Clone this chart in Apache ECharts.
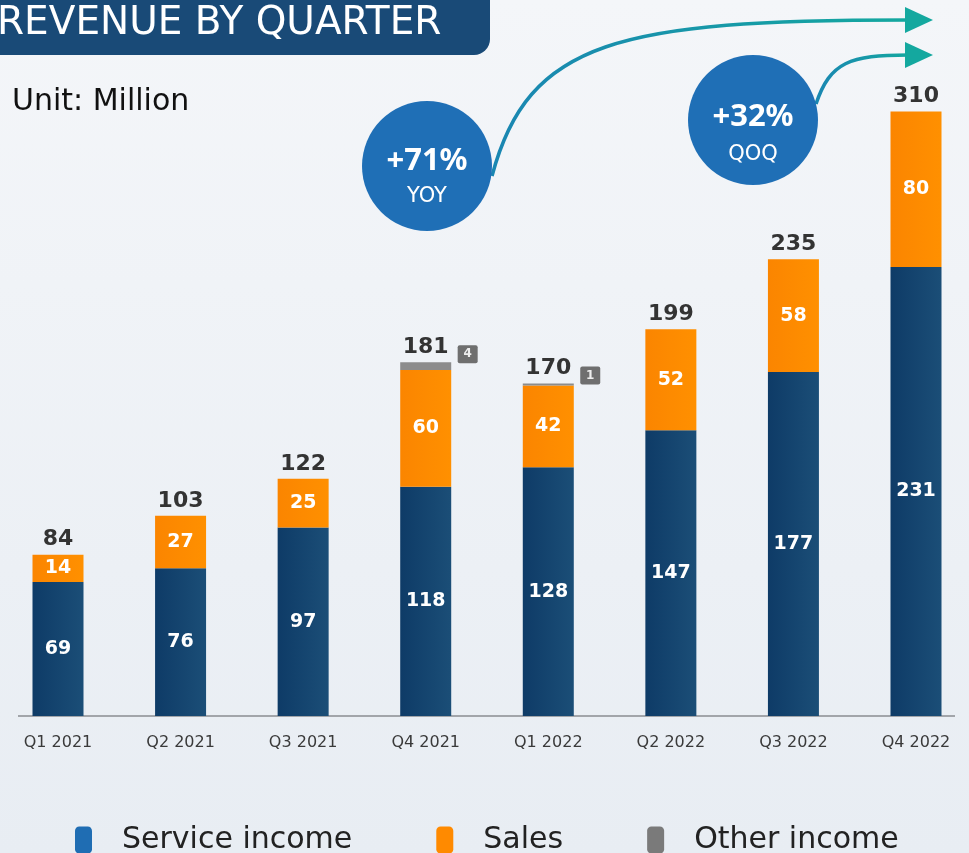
<!DOCTYPE html>
<html>
<head>
<meta charset="utf-8">
<script src="https://cdn.jsdelivr.net/npm/echarts@6/dist/echarts.min.js"></script>
<style>
  html, body { margin: 0; padding: 0; }
  #chart { width: 969px; height: 853px; }
</style>
</head>
<body>
<div id="chart"></div>
<script>
const quarters = ['Q1 2021', 'Q2 2021', 'Q3 2021', 'Q4 2021', 'Q1 2022', 'Q2 2022', 'Q3 2022', 'Q4 2022'];
const service = [69, 76, 97, 118, 128, 147, 177, 231];
const sales = [14, 27, 25, 60, 42, 52, 58, 80];
const other = [0, 0, 0, 4, 1, 0, 0, 0];
const totals = [84, 103, 122, 181, 170, 199, 235, 310];

const FONT = 'DejaVu Sans';
const chart = echarts.init(document.getElementById('chart'));

const inLabel = {
  show: true,
  position: 'inside',
  color: '#fff',
  fontFamily: FONT,
  fontWeight: 'bold',
  fontSize: 19
};

const arrowGrad = () => new echarts.graphic.LinearGradient(0, 0, 1, 0, [
  { offset: 0, color: '#1a86b2' }, { offset: 1, color: '#14a89f' }]);

// bars that carry the small "other" box get a taller label block, so pull it down a bit
const otherData = other.map(v => v > 0 ? { value: v, label: { distance: -1 } } : v);

const option = {
  backgroundColor: new echarts.graphic.LinearGradient(0, 0, 0, 1, [
    { offset: 0, color: '#f4f6f9' },
    { offset: 1, color: '#e8edf3' }
  ]),
  animation: false,
  grid: { left: 58, right: 53, top: 94, bottom: 137 },
  xAxis: {
    type: 'category',
    data: quarters,
    boundaryGap: false,
    axisLine: { show: false },
    axisTick: { show: false },
    axisLabel: { color: '#3a3a3a', fontFamily: FONT, fontSize: 16, margin: 19 }
  },
  yAxis: { type: 'value', min: 0, max: 320, show: false },
  legend: {
    bottom: -7,
    left: 70,
    itemWidth: 17,
    itemHeight: 27,
    itemGap: 84,
    icon: 'roundRect',
    textStyle: { fontFamily: FONT, fontSize: 30, color: '#222', padding: [0, 0, 0, 25] },
    data: [
      { name: 'Service income', itemStyle: { color: '#1f6db3' } },
      { name: 'Sales', itemStyle: { color: '#ff8a00' } },
      { name: 'Other income', itemStyle: { color: '#7a7a7a' } }
    ]
  },
  series: [
    {
      name: 'Service income', type: 'bar', stack: 'r', barWidth: 51, data: service,
      itemStyle: { color: new echarts.graphic.LinearGradient(0, 0, 1, 0, [
        { offset: 0, color: '#0e3b67' }, { offset: 1, color: '#1b4e77' }]) },
      label: inLabel
    },
    {
      name: 'Sales', type: 'bar', stack: 'r', barWidth: 51, data: sales,
      itemStyle: { color: new echarts.graphic.LinearGradient(0, 0, 1, 0, [
        { offset: 0, color: '#fb8500' }, { offset: 1, color: '#ff9000' }]) },
      label: inLabel
    },
    {
      name: 'Other income', type: 'bar', stack: 'r', barWidth: 51, data: otherData,
      itemStyle: { color: '#8c8c8c' },
      label: {
        show: true,
        position: 'top',
        distance: 4,
        formatter: p => other[p.dataIndex] > 0
          ? '{sp|}{t|' + totals[p.dataIndex] + '}{g|}{b|' + other[p.dataIndex] + '}'
          : '{t|' + totals[p.dataIndex] + '}',
        rich: {
          t: { fontFamily: FONT, fontWeight: 'bold', fontSize: 22, color: '#333', verticalAlign: 'top' },
          sp: { width: 29, height: 27 },
          g: { width: 9 },
          b: { backgroundColor: '#6f6f6f', color: '#eee', fontSize: 12, fontWeight: 'bold', verticalAlign: 'bottom',
               fontFamily: FONT, width: 20, height: 18, lineHeight: 18, align: 'center', borderRadius: 2 }
        }
      }
    }
  ],
  graphic: [
    { type: 'rect', shape: { x: -20, y: -20, width: 510, height: 75, r: 16 }, style: { fill: '#194a77' } },
    { type: 'text', x: -3, y: 24, style: { text: 'REVENUE BY QUARTER', fill: '#fff', font: '39px ' + FONT, verticalAlign: 'middle' } },
    { type: 'text', x: 12, y: 102, style: { text: 'Unit: Million', fill: '#111', font: '30px ' + FONT, verticalAlign: 'middle' } },
    { type: 'line', shape: { x1: 18, y1: 716, x2: 955, y2: 716 }, style: { stroke: '#8a8d92', lineWidth: 1.5 } },
    {
      type: 'bezierCurve',
      shape: { x1: 492, y1: 176, cpx1: 528, cpy1: 40, cpx2: 620, cpy2: 20, x2: 908, y2: 20 },
      style: { fill: null, lineWidth: 3.5, stroke: arrowGrad() }
    },
    {
      type: 'bezierCurve',
      shape: { x1: 816, y1: 104, cpx1: 830, cpy1: 62, cpx2: 850, cpy2: 55, x2: 908, y2: 55 },
      style: { fill: null, lineWidth: 3.5, stroke: arrowGrad() }
    },
    { type: 'polygon', shape: { points: [[905, 7], [933, 20], [905, 33]] }, style: { fill: '#14a89f' } },
    { type: 'polygon', shape: { points: [[905, 42], [933, 55], [905, 68]] }, style: { fill: '#14a89f' } },
    { type: 'circle', shape: { cx: 427, cy: 166, r: 65 }, style: { fill: '#1f6fb6' } },
    { type: 'circle', shape: { cx: 753, cy: 120, r: 65 }, style: { fill: '#1f6fb6' } },
    { type: 'text', x: 427, y: 161, style: { text: '+71%', fill: '#fff', font: 'bold 31px Noto Sans', align: 'center', verticalAlign: 'middle' } },
    { type: 'text', x: 427, y: 197, style: { text: 'YOY', fill: '#fff', font: '21px ' + FONT, align: 'center', verticalAlign: 'middle' } },
    { type: 'text', x: 753, y: 117, style: { text: '+32%', fill: '#fff', font: 'bold 31px Noto Sans', align: 'center', verticalAlign: 'middle' } },
    { type: 'text', x: 753, y: 155, style: { text: 'QOQ', fill: '#fff', font: '21px ' + FONT, align: 'center', verticalAlign: 'middle' } }
  ]
};

chart.setOption(option);
</script>
</body>
</html>
